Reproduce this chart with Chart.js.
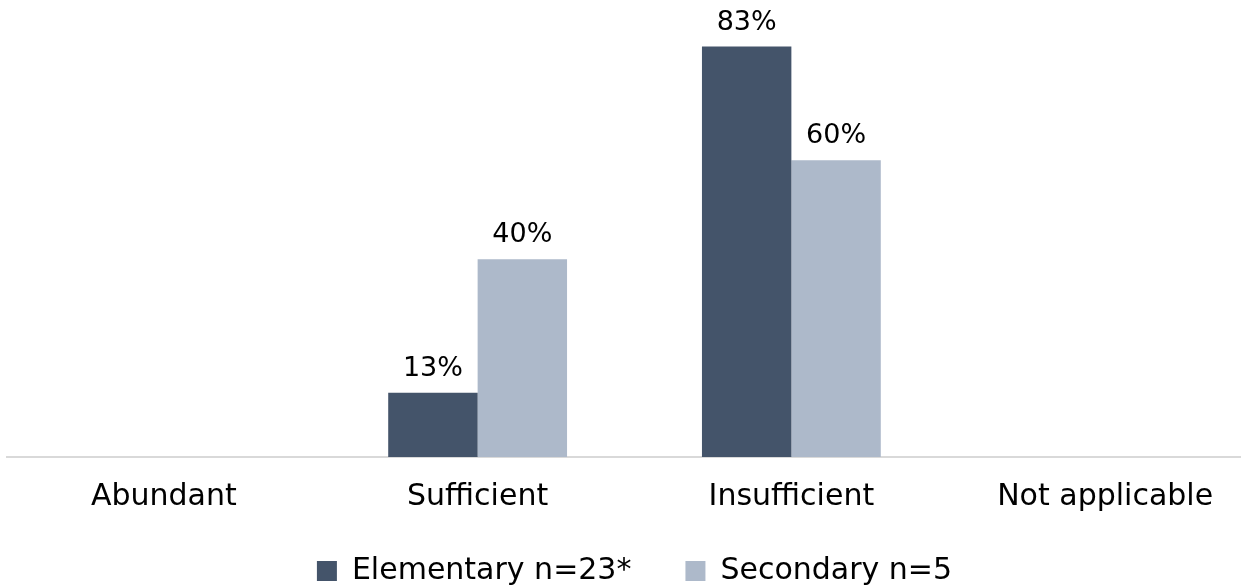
<!DOCTYPE html>
<html>
<head>
<meta charset="utf-8">
<script src="https://cdn.jsdelivr.net/npm/chart.js@4/dist/chart.umd.min.js"></script>
<style>
  html, body { margin: 0; padding: 0; background: #fff; overflow: hidden; }
  #wrap { width: 1262px; height: 631px; position: relative; }
</style>
</head>
<body>
<div id="wrap"><canvas id="myChart"></canvas></div>
<script>
// data
const categories = ["Abundant", "Sufficient", "Insufficient", "Not applicable"];
const elementary = [0, 13, 83, 0];
const secondary = [0, 40, 60, 0];
const seriesNames = ["Elementary n=23*", "Secondary n=5"];

const FONT = "'DejaVu Sans', Verdana, sans-serif";

// percentage labels above each bar (zero bars get none)
const barLabels = {
    id: 'barLabels',
    afterDatasetsDraw(chart) {
        const ctx = chart.ctx;
        ctx.save();
        ctx.font = '27px ' + FONT;
        ctx.fillStyle = '#000';
        ctx.textAlign = 'center';
        ctx.textBaseline = 'alphabetic';
        chart.data.datasets.forEach((ds, i) => {
            chart.getDatasetMeta(i).data.forEach((bar, j) => {
                const v = ds.data[j];
                if (!v) return;
                ctx.fillText(v + '%', bar.x, bar.y - 17);
            });
        });
        ctx.restore();
    }
};

// wide gap between legend items but a tight gap above them:
// nudge the legend up after layout
const liftLegend = {
    id: 'liftLegend',
    afterLayout(chart) {
        chart.legend.top -= 35;
        chart.legend.bottom -= 35;
    }
};

var ctx = document.getElementById('myChart').getContext('2d');
var chart = new Chart(ctx, {
    type: 'bar',
    data: {
        labels: categories,
        datasets: [{
            label: seriesNames[0],
            backgroundColor: '#44546A',
            data: elementary
        }, {
            label: seriesNames[1],
            backgroundColor: '#ADB9CA',
            data: secondary
        }]
    },
    options: {
        responsive: true,
        maintainAspectRatio: false,
        animation: false,
        layout: { padding: { left: 7, right: 0, top: 2, bottom: 0 } },
        datasets: {
            bar: { categoryPercentage: 0.57, barPercentage: 1.0 }
        },
        scales: {
            x: {
                grid: { display: false, drawTicks: false },
                border: { display: true, color: '#d9d9d9', width: 2 },
                ticks: { color: '#000', font: { family: FONT, size: 30 }, padding: 22, maxRotation: 0 }
            },
            y: {
                display: false,
                min: 0,
                max: 92
            }
        },
        plugins: {
            legend: {
                position: 'bottom',
                labels: {
                    color: '#000',
                    font: { family: FONT, size: 30 },
                    boxWidth: 20,
                    boxHeight: 20,
                    padding: 54
                }
            },
            tooltip: { enabled: false }
        }
    },
    plugins: [barLabels, liftLegend]
});
</script>
</body>
</html>
